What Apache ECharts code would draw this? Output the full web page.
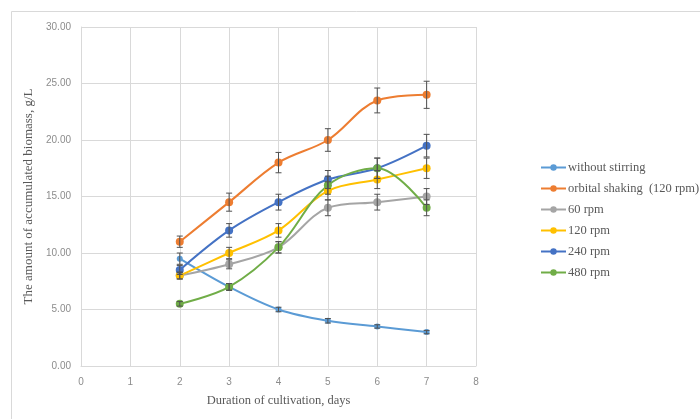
<!DOCTYPE html>
<html>
<head>
<meta charset="utf-8">
<script src="https://cdn.jsdelivr.net/npm/echarts@6/dist/echarts.min.js"></script>
<style>html,body{margin:0;padding:0;background:#fff}#c{width:700px;height:419px}</style>
</head>
<body>
<div id="c"></div>
<script>
var days = [2, 3, 4, 5, 6, 7];
var seriesNames = ['without stirring', 'orbital shaking  (120 rpm)', '60 rpm', '120 rpm', '240 rpm', '480 rpm'];
var withoutStirring = [9.5, 7.0, 5.0, 4.0, 3.5, 3.0];
var orbitalShaking = [11.0, 14.5, 18.0, 20.0, 23.5, 24.0];
var rpm60 = [8.0, 9.0, 10.5, 14.0, 14.5, 15.0];
var rpm120 = [8.0, 10.0, 12.0, 15.5, 16.5, 17.5];
var rpm240 = [8.5, 12.0, 14.5, 16.5, 17.5, 19.5];
var rpm480 = [5.5, 7.0, 10.5, 16.0, 17.5, 14.0];
var errWithout = [0.5, 0.3, 0.2, 0.2, 0.15, 0.15];
var errOrbital = [0.5, 0.8, 0.9, 1.0, 1.1, 1.2];
var err60 = [0.3, 0.4, 0.5, 0.7, 0.7, 0.7];
var err120 = [0.3, 0.5, 0.6, 0.8, 0.8, 0.9];
var err240 = [0.4, 0.6, 0.7, 0.8, 0.9, 1.0];
var err480 = [0.2, 0.3, 0.5, 0.8, 0.9, 0.7];
var colors = ['#5B9BD5', '#ED7D31', '#A5A5A5', '#FFC000', '#4472C4', '#70AD47'];

var values = [withoutStirring, orbitalShaking, rpm60, rpm120, rpm240, rpm480];
var errors = [errWithout, errOrbital, err60, err120, err240, err480];

var series = [];
var errData = [];
values.forEach(function (vals, i) {
  series.push({
    name: seriesNames[i],
    type: 'line',
    smooth: 0.35,
    data: days.map(function (d, j) { return [d, vals[j]]; }),
    symbol: 'circle',
    symbolSize: i === 0 ? 6 : 8,
    lineStyle: { width: 2, color: colors[i] },
    itemStyle: { color: colors[i] },
    z: 3
  });
  days.forEach(function (d, j) {
    errData.push([d, vals[j] - errors[i][j], vals[j] + errors[i][j]]);
  });
});
series.push({
  type: 'custom',
  name: 'err',
  z: 4,
  data: errData,
  renderItem: function (params, api) {
    var lo = api.coord([api.value(0), api.value(1)]);
    var hi = api.coord([api.value(0), api.value(2)]);
    var w = 3;
    var st = { stroke: '#505050', lineWidth: 1 };
    return {
      type: 'group',
      children: [
        { type: 'line', shape: { x1: lo[0], y1: lo[1], x2: hi[0], y2: hi[1] }, style: st },
        { type: 'line', shape: { x1: lo[0] - w, y1: lo[1], x2: lo[0] + w, y2: lo[1] }, style: st },
        { type: 'line', shape: { x1: hi[0] - w, y1: hi[1], x2: hi[0] + w, y2: hi[1] }, style: st }
      ]
    };
  },
  tooltip: { show: false }
});

var chart = echarts.init(document.getElementById('c'), null, { renderer: 'canvas' });
chart.setOption({
  animation: false,
  backgroundColor: '#fff',
  graphic: [{
    type: 'rect',
    shape: { x: 11.5, y: 11.5, width: 720, height: 440 },
    style: { fill: 'none', stroke: '#d9d9d9', lineWidth: 1 },
    silent: true
  }],
  grid: { left: 81, right: 224, top: 27, bottom: 53 },
  legend: {
    orient: 'vertical',
    left: 535,
    top: 156,
    itemWidth: 25,
    itemHeight: 8,
    itemGap: 8,
    data: seriesNames,
    textStyle: { fontFamily: 'Liberation Serif', fontSize: 12.5, color: '#595959', padding: [0, 0, 0, -3] }
  },
  xAxis: {
    type: 'value',
    min: 0, max: 8, interval: 1,
    name: 'Duration of cultivation, days',
    nameLocation: 'middle',
    nameGap: 28,
    nameTextStyle: { fontFamily: 'Liberation Serif', fontSize: 12.5, color: '#595959' },
    axisLine: { show: true, lineStyle: { color: '#d9d9d9' } },
    axisTick: { show: false },
    axisLabel: { color: '#8c8c8c', fontFamily: 'Liberation Sans', fontSize: 10, margin: 11 },
    splitLine: { show: true, lineStyle: { color: '#d9d9d9' } }
  },
  yAxis: {
    type: 'value',
    min: 0, max: 30, interval: 5,
    name: 'The amount of accumulated biomass, g/L',
    nameLocation: 'middle',
    nameGap: 38,
    nameTextStyle: { fontFamily: 'Liberation Serif', fontSize: 13, color: '#595959' },
    axisLine: { show: true, lineStyle: { color: '#d9d9d9' } },
    axisTick: { show: false },
    axisLabel: { color: '#8c8c8c', fontFamily: 'Liberation Sans', fontSize: 10, margin: 10,
      formatter: function (v) { return v.toFixed(2); } },
    splitLine: { show: true, lineStyle: { color: '#d9d9d9' } }
  },
  series: series
});
</script>
</body>
</html>
